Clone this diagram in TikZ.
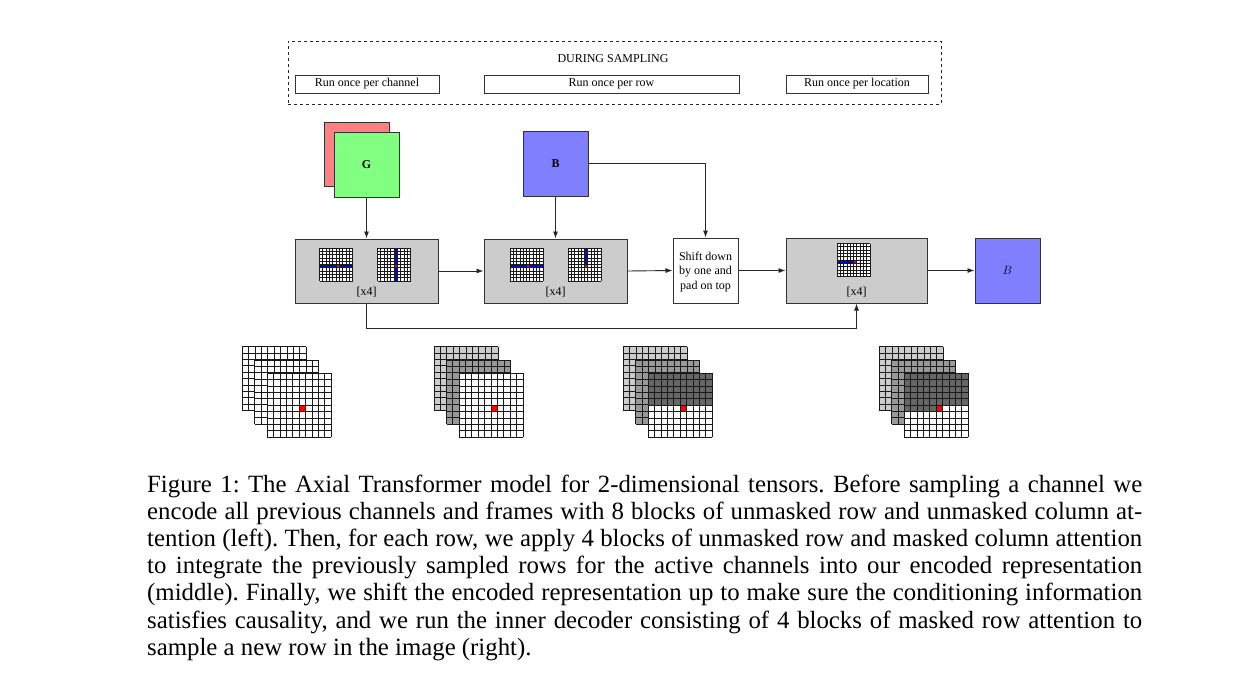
\documentclass[tikz,border=0pt]{standalone}
\usepackage{fontspec}
\setmainfont{Liberation Serif}
\usetikzlibrary{arrows.meta,calc}
\definecolor{lred}{HTML}{FF8080}
\definecolor{lgreen}{HTML}{80FF80}
\definecolor{lblue}{HTML}{8080FF}
\definecolor{blockgray}{HTML}{CCCCCC}
\definecolor{g80}{HTML}{CCCCCC}
\definecolor{g60}{HTML}{999999}
\definecolor{g40}{HTML}{666666}
\newcommand\gridat[5]{% x, y, cell size, line width, fills
  \begin{scope}[shift={(#1,#2)}]
    \def\gcs{#3}
    \fill[white] (0,0) rectangle (10*\gcs,10*\gcs);
    #5
    \foreach \i in {0,...,10}{\draw[line width=#4,black!90] (\i*\gcs,0) -- (\i*\gcs,10*\gcs) (0,\i*\gcs) -- (10*\gcs,\i*\gcs);}
  \end{scope}}
\newcommand\cellf[3]{\fill[#3] (#1*\gcs,#2*\gcs) rectangle ++(\gcs,\gcs);}
\newcommand\stackgrid[5]{% x, y, back, mid, front fills
  \gridat{#1}{#2}{6.4}{1pt}{\fill[#3] (0,0) rectangle (64,64);}
  \gridat{#1+12.5}{#2+13.3}{6.4}{1pt}{\fill[#4] (0,0) rectangle (64,64);}
  \gridat{#1+25}{#2+26.6}{6.4}{1pt}{#5}}
\begin{document}
\frenchspacing
\begin{tikzpicture}[x=1pt,y=-1pt,
  box/.style={draw=black!80, line width=1pt, inner sep=0pt},
  lbl/.style={font=\fontsize{12}{14.5}\selectfont},
  arr/.style={draw=black!85, line width=0.9pt, -{Latex[length=7pt,width=5pt]}},
  ln/.style={draw=black!85, line width=0.9pt}]
\useasboundingbox (0,0) rectangle (1244,686);
\fill[white] (0,0) rectangle (1244,686);

% top dashed box
\node[draw=black!85, dashed, line width=0.8pt, minimum width=653pt, minimum height=63pt, inner sep=0pt] (samp) at (614.5,72.5) {};
\node[lbl] (samptitle) at (613,58.5) {DURING SAMPLING};
\node[box, minimum width=144pt, minimum height=18pt, lbl] (chan) at (367,84) {Run once per channel};
\node[box, minimum width=255pt, minimum height=18pt, lbl] (rowb) at (611.5,84) {Run once per row};
\node[box, minimum width=142pt, minimum height=18pt, lbl] (loc) at (857,84) {Run once per location};

% input squares
\node[box, fill=lred, minimum width=65pt, minimum height=64pt] (R) at (356.5,154) {};
\node[box, fill=lgreen, minimum width=65pt, minimum height=65pt, lbl] (G) at (366.5,164.5) {\textbf{G}};
\node[box, fill=lblue, minimum width=65pt, minimum height=65pt, lbl] (B) at (555.5,163.5) {\textbf{B}};

% blocks
\node[box, fill=blockgray, minimum width=143pt, minimum height=64pt] (b1) at (366.5,271) {};
\node[box, fill=blockgray, minimum width=143pt, minimum height=64pt] (b2) at (555.5,271) {};
\node[box, fill=white, minimum width=65pt, minimum height=65pt, lbl, align=center] (shift) at (705.5,270.5) {};
\node[lbl, align=center] (shifttext) at (705.5,272) {Shift down\\by one and\\pad on top};
\node[box, fill=blockgray, minimum width=141pt, minimum height=65pt] (b3) at (856.5,270.5) {};
\node[box, fill=lblue, minimum width=65pt, minimum height=65pt, lbl] (Bout) at (1007.5,270.5) {$B$};

\node[lbl] (x1) at (366.5,292.5) {[x4]};
\node[lbl] (x2) at (555.5,292.5) {[x4]};
\node[lbl] (x3) at (856.5,292.5) {[x4]};

% grids inside blocks
\gridat{319.5}{248}{3.3}{0.7pt}{\fill[blue] (0,5*\gcs) rectangle (10*\gcs,6*\gcs); \cellf{5}{5}{red}}
\gridat{377.5}{248}{3.3}{0.7pt}{\fill[blue] (5*\gcs,0) rectangle (6*\gcs,10*\gcs); \cellf{5}{5}{red}}
\gridat{510}{248}{3.3}{0.7pt}{\fill[blue] (0,5*\gcs) rectangle (10*\gcs,6*\gcs); \cellf{5}{5}{red}}
\gridat{568}{248}{3.3}{0.7pt}{\fill[blue] (5*\gcs,0) rectangle (6*\gcs,5*\gcs); \cellf{5}{5}{red}}
\gridat{837}{243.5}{3.3}{0.7pt}{\fill[blue] (0,5*\gcs) rectangle (5*\gcs,6*\gcs); \cellf{5}{5}{red}}

% connectors
\draw[arr] (G.south) -- (b1.north);
\draw[arr] (B.south) -- (b2.north);
\draw[arr] (B.east) -| (shift.north);
\draw[arr] (b1.east) -- (b2.west);
\draw[arr] (b2.east) -- (shift.west);
\draw[arr] (shift.east) -- (b3.west);
\draw[arr] (b3.east) -- (Bout.west);
\draw[arr] (b1.south) -- ++(0,25) -| (b3.south);

% bottom stacked grids
\stackgrid{242.3}{346.7}{white}{white}{\cellf{5}{5}{red}}
\stackgrid{434}{346.7}{g80}{g60}{\cellf{5}{5}{red}}
\stackgrid{623.3}{346.7}{g80}{g60}{\fill[g40] (0,0) rectangle (64,5*\gcs); \cellf{5}{5}{red}}
\stackgrid{879.3}{346.7}{g80}{g60}{\fill[g40] (0,0) rectangle (64,5*\gcs); \fill[g40] (0,5*\gcs) rectangle (5*\gcs,6*\gcs); \cellf{5}{5}{red}}

% caption
\node[anchor=north west, inner sep=0pt, text width=995pt, align=justify, font=\fontsize{24.8}{27.2}\selectfont] (cap) at (147,474.5) {Figure 1: The Axial Transformer model for 2-dimensional tensors. Before sampling a channel we\linebreak
encode all previous channels and frames with 8 blocks of unmasked row and unmasked column at-\linebreak
tention (left). Then, for each row, we apply 4 blocks of unmasked row and masked column attention\linebreak
to integrate the previously sampled rows for the active channels into our encoded representation\linebreak
(middle). Finally, we shift the encoded representation up to make sure the conditioning information\linebreak
satisfies causality, and we run the inner decoder consisting of 4 blocks of masked row attention to\linebreak
sample a new row in the image (right).};
\end{tikzpicture}
\end{document}
